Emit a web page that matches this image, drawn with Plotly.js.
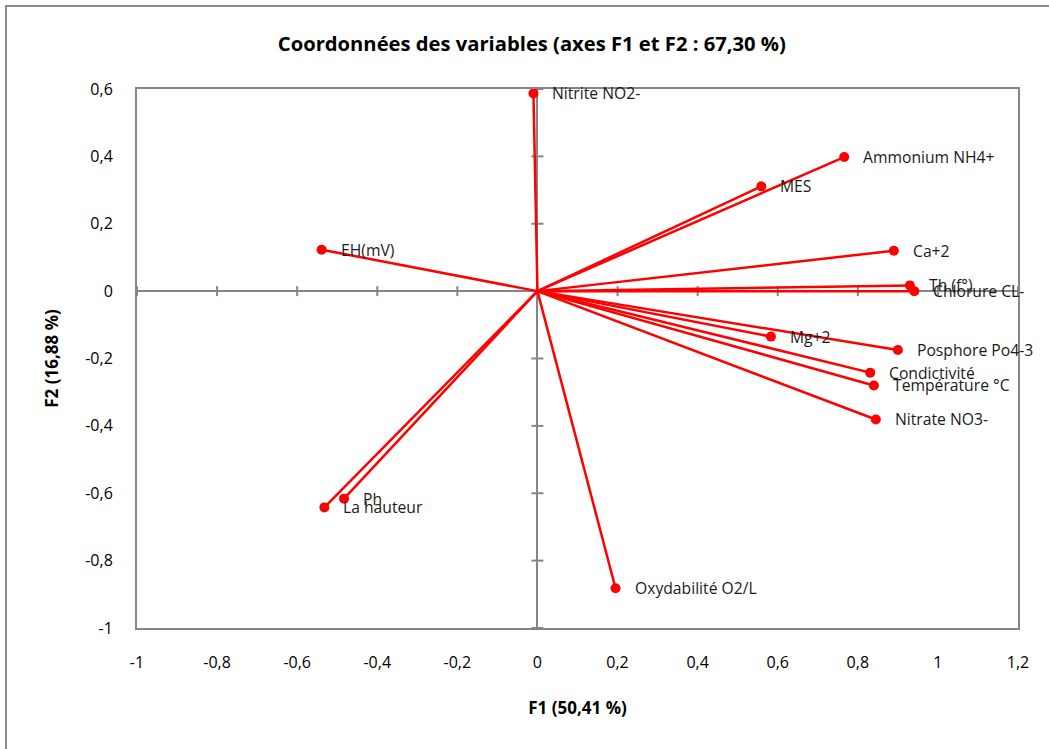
<!DOCTYPE html>
<html>
<head>
<meta charset="utf-8">
<script src="https://cdn.plot.ly/plotly-3.0.1.min.js"></script>
<style>
  html, body { margin: 0; padding: 0; overflow: hidden; background: #ffffff; }
  #frame { position: absolute; left: 5px; top: 5px; width: 1100px; height: 800px; border: 2px solid #8c8c8c; }
  #chart { position: absolute; left: 0; top: 0; width: 1049px; height: 749px; }
</style>
</head>
<body>
<div id="frame"></div>
<div id="chart"></div>
<script>
// Variable names
const variables = [
  "Nitrite NO2-", "Ammonium NH4+", "MES", "EH(mV)", "Ca+2", "Th (f°)",
  "Chlorure CL-", "Mg+2", "Posphore Po4-3", "Condictivité", "Température °C",
  "Nitrate NO3-", "Ph", "La hauteur", "Oxydabilité O2/L"
];
// F1 coordinates
const f1 = [
  -0.010, 0.766, 0.559, -0.539, 0.890, 0.930,
  0.941, 0.583, 0.900, 0.831, 0.840,
  0.845, -0.483, -0.532, 0.195
];
// F2 coordinates
const f2 = [
  0.587, 0.398, 0.311, 0.123, 0.120, 0.017,
  0.000, -0.135, -0.175, -0.242, -0.280,
  -0.381, -0.616, -0.642, -0.882
];
// Axis ticks
const xTickVals = [-1, -0.8, -0.6, -0.4, -0.2, 0, 0.2, 0.4, 0.6, 0.8, 1, 1.2];
const xTickText = ["-1", "-0,8", "-0,6", "-0,4", "-0,2", "0", "0,2", "0,4", "0,6", "0,8", "1", "1,2"];
const yTickVals = [-1, -0.8, -0.6, -0.4, -0.2, 0, 0.2, 0.4, 0.6];
const yTickText = ["-1", "-0,8", "-0,6", "-0,4", "-0,2", "0", "0,2", "0,4", "0,6"];

const FONT = "'Open Sans', Lato, sans-serif";
const RED = "#ff0000";
const GRAY = "#868686";

// vectors from origin
const lx = [], ly = [];
f1.forEach((v, i) => { lx.push(0, v, null); ly.push(0, f2[i], null); });

const traces = [
  { x: lx, y: ly, mode: "lines", line: { color: RED, width: 2.5 }, hoverinfo: "skip", showlegend: false },
  { x: f1, y: f2, text: variables, mode: "markers", marker: { color: RED, size: 10 }, showlegend: false }
];

const annotations = variables.map((name, i) => ({
  x: f1[i], y: f2[i], xref: "x", yref: "y", text: name, showarrow: false,
  xanchor: "left", yanchor: "middle", xshift: 17,
  font: { family: FONT, size: 15.7, color: "#1a1a1a" }
}));

// tick marks crossing the zero axes
const shapes = [];
xTickVals.forEach(t => {
  if (t === 0) return;
  shapes.push({ type: "line", xref: "x", yref: "y", ysizemode: "pixel", yanchor: 0,
    x0: t, x1: t, y0: -5, y1: 5, line: { color: GRAY, width: 2 }, layer: "below" });
});
yTickVals.forEach(t => {
  if (t === 0) return;
  shapes.push({ type: "line", xref: "x", yref: "y", xsizemode: "pixel", xanchor: 0,
    y0: t, y1: t, x0: -6, x1: 6, line: { color: GRAY, width: 2 }, layer: "below" });
});

const layout = {
  width: 1049, height: 749,
  paper_bgcolor: "rgba(0,0,0,0)", plot_bgcolor: "#ffffff",
  margin: { l: 137, r: 31, t: 89, b: 121, pad: 0 },
  title: { text: "<b>Coordonnées des variables (axes F1 et F2 : 67,30 %)</b>",
    font: { family: FONT, size: 20.2, color: "#000000" }, x: 0.507, xanchor: "center", y: 0.941, yanchor: "middle" },
  font: { family: FONT, size: 16, color: "#000000" },
  xaxis: {
    range: [-1, 1.2], autorange: false, tickvals: xTickVals, ticktext: xTickText,
    showgrid: false, zeroline: true, zerolinecolor: GRAY, zerolinewidth: 2,
    showline: true, mirror: true, linecolor: GRAY, linewidth: 2,
    ticks: "outside", ticklen: 19, tickcolor: "rgba(0,0,0,0)",
    tickfont: { family: FONT, size: 16, color: "#000000" },
    title: { text: "<b>F1 (50,41 %)</b>", font: { family: FONT, size: 17, color: "#000000" }, standoff: 30 }
  },
  yaxis: {
    range: [-1, 0.6], autorange: false, tickvals: yTickVals, ticktext: yTickText,
    showgrid: false, zeroline: true, zerolinecolor: GRAY, zerolinewidth: 2,
    showline: true, mirror: true, linecolor: GRAY, linewidth: 2,
    ticks: "outside", ticklen: 19, tickcolor: "rgba(0,0,0,0)",
    tickfont: { family: FONT, size: 16, color: "#000000" },
    title: { text: "<b>F2 (16,88 %)</b>", font: { family: FONT, size: 17, color: "#000000" }, standoff: 22 }
  },
  shapes: shapes,
  annotations: annotations,
  showlegend: false
};

Plotly.newPlot("chart", traces, layout, { displayModeBar: false, staticPlot: true });
</script>
</body>
</html>
